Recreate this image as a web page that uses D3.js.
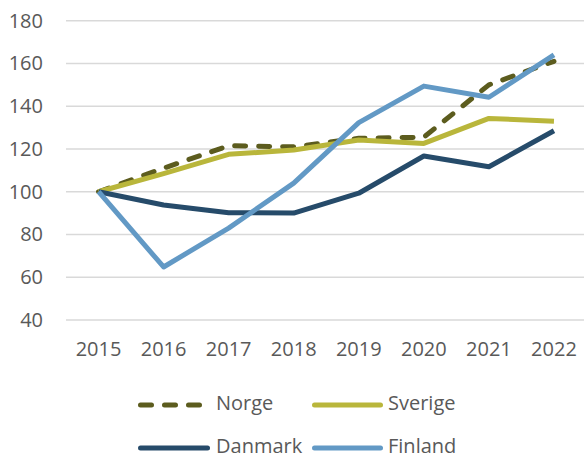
<!DOCTYPE html>
<html><head><meta charset="utf-8">
<script src="https://cdn.jsdelivr.net/npm/d3@7"></script>
<style>body{margin:0;background:#fff}svg{display:block}text{font-family:"Open Sans",sans-serif;fill:#595959}</style>
</head><body><svg id="c" width="584" height="458"></svg>
<script>
const years = ["2015","2016","2017","2018","2019","2020","2021","2022"];
const yTicks = [40,60,80,100,120,140,160,180];
const norge   = [100,111,121.5,121,125,125.5,150,161];
const sverige = [100,108.5,117.5,119.5,124.2,122.6,134.3,133];
const danmark = [100,93.8,90.2,90,99.3,116.7,111.7,128.5];
const finland = [100,64.8,83,104,132.3,149.4,144.2,164];
const seriesNames = ["Norge","Sverige","Danmark","Finland"];
const seriesColors = ["#5c5c1e","#b9b63b","#264b6a","#6299c5"];
const seriesData = [norge, sverige, danmark, finland];
const dashed = [true,false,false,false];

const svg = d3.select("#c");
const x = d3.scaleBand().domain(years).range([66,586.5]);
const y = d3.scaleLinear().domain([40,180]).range([320,20.7]);

svg.append("g").selectAll("line").data(yTicks).join("line")
  .attr("x1",66).attr("x2",584).attr("y1",d=>y(d)).attr("y2",d=>y(d))
  .attr("stroke","#d9d9d9").attr("stroke-width",1.5);

const yAxis = svg.append("g").attr("transform","translate(43,0)")
  .call(d3.axisLeft(y).tickValues(yTicks).tickSize(0).tickPadding(0));
yAxis.select(".domain").remove();
yAxis.selectAll("text").style("font-size","20px").attr("fill","#595959").style("font-family","'Open Sans',sans-serif");

const xAxis = svg.append("g").attr("transform","translate(0,342)")
  .call(d3.axisBottom(x).tickSize(0).tickPadding(0));
xAxis.select(".domain").remove();
xAxis.selectAll("text").style("font-size","20px").attr("fill","#595959").style("font-family","'Open Sans',sans-serif");

const line = d3.line().x((d,i)=>x(years[i])+x.bandwidth()/2).y(d=>y(d));
seriesData.forEach((s,k)=>{
  const p = svg.append("path").datum(s).attr("d",line)
    .attr("fill","none").attr("stroke",seriesColors[k]).attr("stroke-width",5)
    .attr("stroke-linejoin","round");
  if(dashed[k]) p.attr("stroke-dasharray","11,13").attr("stroke-linecap","round");
});

const legPos = [[138,405],[312,405],[138,448],[312,448]];
const legLen = [65,71,72,71];
const legTextX = [216,388,216,388];
seriesNames.forEach((n,k)=>{
  const [lx,ly]=legPos[k];
  const l = svg.append("line").attr("x1",lx+2.5).attr("x2",lx+legLen[k]-2.5).attr("y1",ly).attr("y2",ly)
    .attr("stroke",seriesColors[k]).attr("stroke-width",5).attr("stroke-linecap","round");
  if(dashed[k]) l.attr("stroke-dasharray","11,13");
  svg.append("text").attr("x",legTextX[k]).attr("y",ly).attr("dy","0.26em")
    .style("font-size","20px").text(n);
});
</script></body></html>
